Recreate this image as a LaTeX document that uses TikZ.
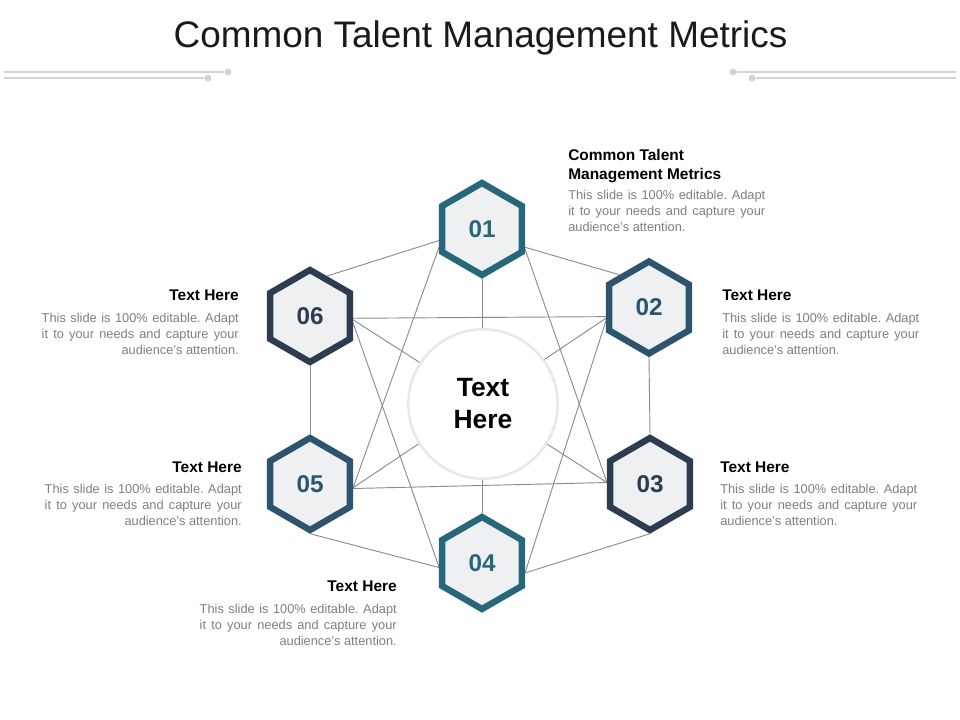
\documentclass[tikz,border=0pt]{standalone}
\usepackage{fontspec}
\setmainfont{Liberation Sans}
\usetikzlibrary{shapes.geometric,backgrounds}
\definecolor{hexteal}{HTML}{26687A}
\definecolor{hexblue}{HTML}{2C546E}
\definecolor{hexnavy}{HTML}{2E3C50}
\definecolor{hexfill}{HTML}{EFF0F2}
\definecolor{wire}{HTML}{8C8C8C}
\definecolor{rulegray}{HTML}{D3D3D3}
\definecolor{ringgray}{HTML}{E8E8E8}
\definecolor{bodygray}{HTML}{7F7F7F}
\definecolor{inkblack}{HTML}{1A1A1A}
\frenchspacing
\newcommand{\fillline}[1]{\makebox[147.75pt][s]{#1}}
\newcommand{\blurb}{\fillline{This slide is 100\% editable. Adapt}\\\fillline{it to your needs and capture your}\\audience's attention.}

\begin{document}
\begin{tikzpicture}[x=0.75pt,y=-0.75pt,
  hexbox/.style={regular polygon,regular polygon sides=6,shape border rotate=90,minimum size=69pt,inner sep=0pt,line width=4.8pt,fill=hexfill,font=\fontsize{18.2}{20}\selectfont\bfseries},
  ctrdisc/.style={circle,draw=ringgray,line width=1.9pt,fill=white,minimum size=112pt,align=center,font=\fontsize{19.8}{24}\selectfont\bfseries,text=black},
  headtxt/.style={inner sep=0pt,font=\fontsize{11.6}{14.25}\selectfont\bfseries,text=black},
  bodytxt/.style={inner sep=0pt,font=\fontsize{9.6}{12}\selectfont,text=bodygray},
  wireline/.style={draw=wire,line width=0.7pt},
  hdrline/.style={draw=rulegray,line width=1.5pt},
  hdot/.style={circle,fill=rulegray,inner sep=0pt,minimum size=5.2pt}]
\useasboundingbox (0,0) rectangle (960,720);
% title and header rules
\node[font=\fontsize{27.7}{33}\selectfont,text=inkblack] (title) at (480.5,38) {Common Talent Management Metrics};
\node[hdot] (dl1) at (228,72) {};
\node[hdot] (dl2) at (208,78) {};
\node[hdot] (dr1) at (733,72) {};
\node[hdot] (dr2) at (752,78) {};
\draw[hdrline] (4,72) -- (dl1);
\draw[hdrline] (4,78) -- (dl2);
\draw[hdrline] (dr1) -- (956,72);
\draw[hdrline] (dr2) -- (956,78);
% hexagons
\foreach \n/\x/\y/\c in {01/482/229/hexteal,02/649/307.5/hexblue,03/650/484/hexnavy,04/482/563/hexteal,05/310/484/hexblue,06/310/316/hexnavy}
  \node[hexbox,draw=\c,text=\c] (h\n) at (\x,\y) {\n};
% web of lines behind
\begin{scope}[on background layer]
\fill[white] (0,0) rectangle (960,720);
\foreach \a/\b in {06.67/01.195,01.337/02.132,02.270/03.90,03.270/04.347,04.186/05.270,05.90/06.270,01.335/03.178,01.270/04.90,01.203/05.355,02.197/04.347,02.194/05.355,02.192/06.357,03.178/05.354,03.178/06.355,04.185/06.351}
  \draw[wireline] (h\a) -- (h\b);
\end{scope}
\node[ctrdisc] (ctr) at (483,404) {Text\\Here};
% text blocks
\node[headtxt,anchor=north west,align=left] (t01h) at (568,149) {Common Talent\\Management Metrics};
\node[bodytxt,anchor=north west,align=left] (t01b) at (568,190) {\blurb};
\node[headtxt,anchor=north west] (t02h) at (722,290) {Text Here};
\node[bodytxt,anchor=north west,align=left] (t02b) at (722,313) {\blurb};
\node[headtxt,anchor=north west] (t03h) at (720,462) {Text Here};
\node[bodytxt,anchor=north west,align=left] (t03b) at (720,484) {\blurb};
\node[headtxt,anchor=north east] (t04h) at (397,581) {Text Here};
\node[bodytxt,anchor=north east,align=right] (t04b) at (397,604) {\blurb};
\node[headtxt,anchor=north east] (t05h) at (242,462) {Text Here};
\node[bodytxt,anchor=north east,align=right] (t05b) at (242,484) {\blurb};
\node[headtxt,anchor=north east] (t06h) at (239,290) {Text Here};
\node[bodytxt,anchor=north east,align=right] (t06b) at (239,313) {\blurb};
\end{tikzpicture}
\end{document}
